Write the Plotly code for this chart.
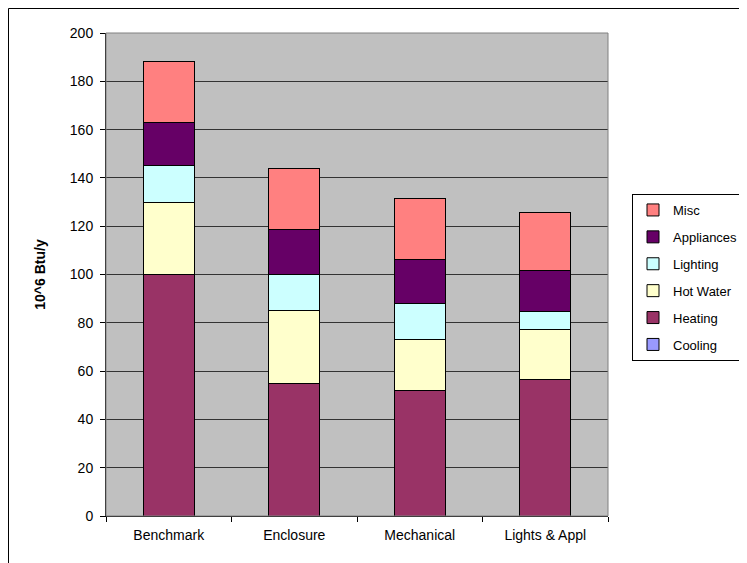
import plotly.graph_objects as go

categories = ["Benchmark", "Enclosure", "Mechanical", "Lights & Appl"]
cooling = [0, 0, 0, 0]
heating = [100, 55, 52, 56.7]
hot_water = [30, 30, 21, 20.5]
lighting = [15, 15, 15, 7.4]
appliances = [18, 18.7, 18.4, 17.1]
misc = [25, 25, 25.1, 23.9]

series = [
    ("Cooling", cooling, "#9999FF"),
    ("Heating", heating, "#993366"),
    ("Hot Water", hot_water, "#FFFFCC"),
    ("Lighting", lighting, "#CCFFFF"),
    ("Appliances", appliances, "#660066"),
    ("Misc", misc, "#FF8080"),
]

fig = go.Figure()
n = len(series)
for i, (name, vals, color) in enumerate(series):
    fig.add_trace(go.Bar(
        x=categories, y=vals, name=name, legendgroup=name,
        legendrank=1000 + (n - i),
        marker=dict(color=color, line=dict(color="black", width=1)),
    ))

font = "Liberation Sans, Arial, sans-serif"
# page has an 8px body margin: plot area spans page x 106..608, y 33..516
L, T = 98, 25
W, H = 739, 555
R, B = 139, 47
pw = W - L - R
ph = H - T - B

def px_x(p):
    return (p - 8 - L) / pw

def px_y(p):
    return (H - B - (p - 8)) / ph

fig.update_layout(
    barmode="stack",
    bargap=0.59,
    width=W, height=H,
    margin=dict(l=L, r=R, t=T, b=B),
    paper_bgcolor="white",
    plot_bgcolor="#C0C0C0",
    font=dict(family=font, size=14, color="black"),
    showlegend=True,
    legend=dict(
        xref="container", yref="container",
        x=(632 - 8) / W, y=1 - (194 - 8) / H, xanchor="left", yanchor="top",
        traceorder="grouped", tracegroupgap=7,
        bordercolor="black", borderwidth=1, bgcolor="white",
        font=dict(family=font, size=13, color="black"),
        itemwidth=30,
    ),
    xaxis=dict(
        showline=True, linecolor="black", linewidth=1,
        ticks="outside", tickson="boundaries", ticklen=5, tickcolor="black",
        showgrid=False, mirror=False, ticklabelstandoff=6,
        tickfont=dict(family=font, size=14),
    ),
    yaxis=dict(
        range=[0, 200], dtick=20,
        showline=True, linecolor="black", linewidth=1,
        ticks="outside", ticklen=5, tickcolor="black",
        showgrid=True, gridcolor="#333333", gridwidth=1,
        zeroline=False, ticklabelstandoff=4,
        tickfont=dict(family=font, size=14),
        title=dict(text="<b>10^6 Btu/y</b>", standoff=20,
                   font=dict(family=font, size=14)),
    ),
    shapes=[
        dict(type="rect", xref="paper", yref="paper", x0=0, x1=1, y0=0, y1=1,
             line=dict(color="#808080", width=1), fillcolor="rgba(0,0,0,0)", layer="above"),
        dict(type="rect", xref="paper", yref="paper",
             x0=px_x(8.5), x1=px_x(780),
             y0=px_y(590), y1=px_y(8.5),
             line=dict(color="black", width=1), fillcolor="rgba(0,0,0,0)", layer="above"),
    ],
)

fig.write_html("out.html")
